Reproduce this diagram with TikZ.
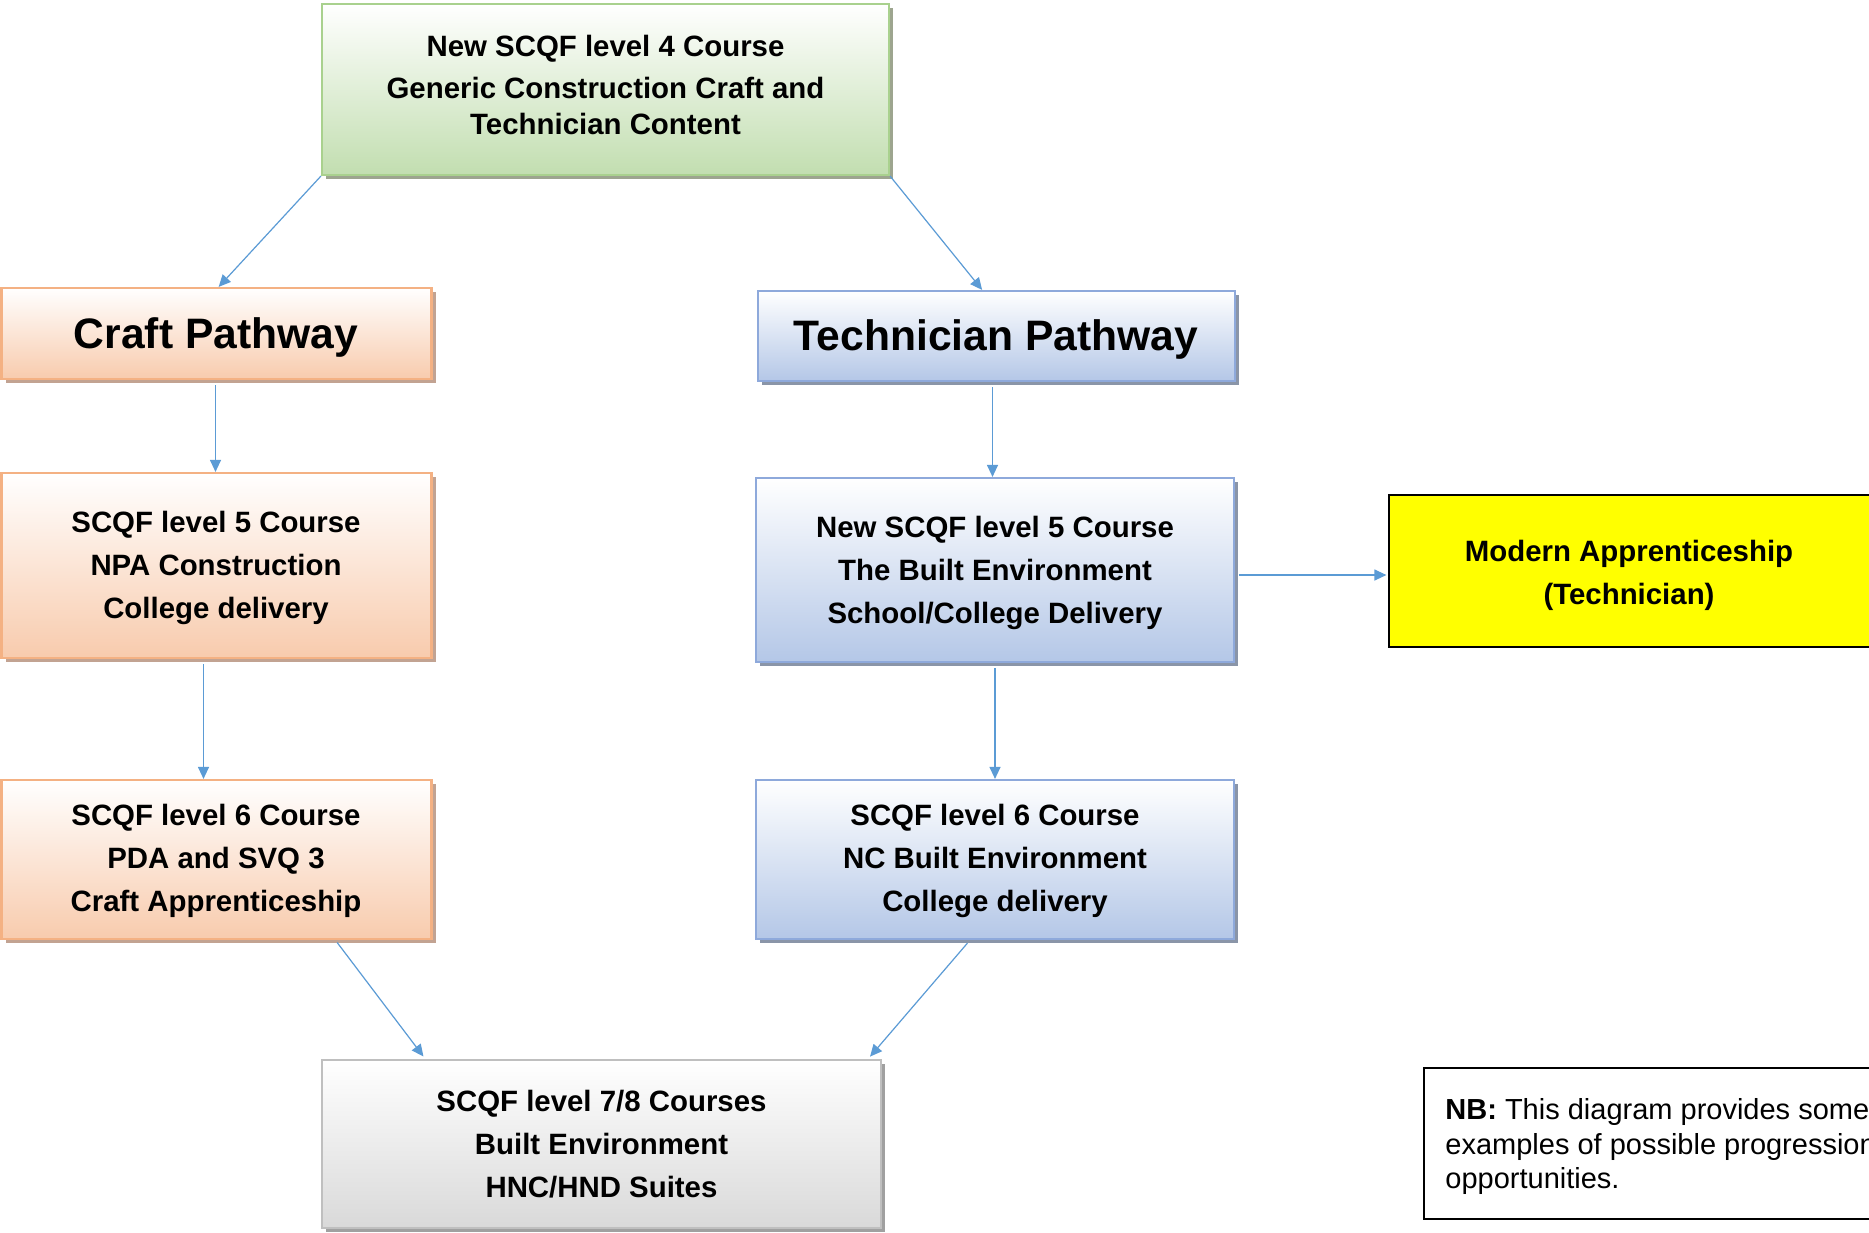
\documentclass[tikz,border=0pt]{standalone}
\usepackage{fontspec}
\setmainfont{Liberation Sans}
\usetikzlibrary{shadows,arrows.meta,calc}
\definecolor{arr}{HTML}{5B9BD5}
\definecolor{grB}{HTML}{A9D18E}
\definecolor{grF}{HTML}{C2DEB0}
\definecolor{grS}{HTML}{9DA58F}
\definecolor{orB}{HTML}{F4B183}
\definecolor{orF}{HTML}{F8CBAD}
\definecolor{orS}{HTML}{C2A392}
\definecolor{blB}{HTML}{8EA9DB}
\definecolor{blF}{HTML}{B4C7E7}
\definecolor{blS}{HTML}{8A95A8}
\definecolor{gyB}{HTML}{BFBFBF}
\definecolor{gyF}{HTML}{D9D9D9}
\definecolor{gyS}{HTML}{A0A0A0}
\definecolor{yel}{HTML}{FFFF00}
\tikzset{
  box/.style={rectangle, inner sep=0pt, line width=1.1pt},
  greenbox/.style={box, draw=grB, top color=white, bottom color=grF,
    drop shadow={shadow xshift=2pt, shadow yshift=-2pt, fill=grS, opacity=1}},
  orangebox/.style={box, draw=orB, top color=white, bottom color=orF,
    drop shadow={shadow xshift=2pt, shadow yshift=-2pt, fill=orS, opacity=1}},
  bluebox/.style={box, draw=blB, top color=white, bottom color=blF,
    drop shadow={shadow xshift=2pt, shadow yshift=-2pt, fill=blS, opacity=1}},
  graybox/.style={box, draw=gyB, top color=white, bottom color=gyF,
    drop shadow={shadow xshift=2pt, shadow yshift=-2pt, fill=gyS, opacity=1}},
  yellowbox/.style={box, draw=black, line width=0.6pt, fill=yel},
  notebox/.style={box, draw=black, line width=0.6pt, fill=white},
  txt/.style={align=center, inner sep=0pt, font=\bfseries\fontsize{14.7}{21.5}\selectfont},
  bigtxt/.style={inner sep=0pt, font=\bfseries\fontsize{21.3}{25}\selectfont},
  notetxt/.style={align=left, inner sep=0pt, anchor=west, font=\fontsize{14.5}{17.3}\selectfont},
  conn/.style={draw=arr, line width=0.6pt, -{Triangle[length=6pt,width=5.5pt]}},
}
\begin{document}
\begin{tikzpicture}[x=0.5pt,y=-0.5pt]
\useasboundingbox (0,0) rectangle (1869,1232);
\clip (0,0) rectangle (1869,1232);
\fill[white] (0,0) rectangle (1869,1232);

% boxes
\node[greenbox, minimum width=283.5pt, minimum height=85.5pt] (top) at (605.5,89.5) {};
\node[txt, font=\bfseries\fontsize{14.7}{18}\selectfont] (topt) at (605.5,85) {New SCQF level 4 Course\\[3pt]Generic Construction Craft and\\Technician Content};

\node[orangebox, minimum width=215pt, minimum height=45.5pt] (craft) at (216.5,333.5) {};
\node[bigtxt] (craftt) at (216,337) {Craft Pathway};

\node[bluebox, minimum width=238.5pt, minimum height=45pt] (tech) at (996.5,336) {};
\node[bigtxt] (techt) at (996,339.5) {Technician Pathway};

\node[orangebox, minimum width=215pt, minimum height=92.5pt] (craft5) at (216.5,565.5) {};
\node[txt] (craft5t) at (216,568) {SCQF level 5 Course\\NPA Construction\\College delivery};

\node[bluebox, minimum width=239pt, minimum height=92pt] (tech5) at (995,570) {};
\node[txt] (tech5t) at (995,572.5) {New SCQF level 5 Course\\The Built Environment\\School/College Delivery};

\node[yellowbox, minimum width=245pt, minimum height=76pt] (ma) at (1634,571) {};
\node[txt] (mat) at (1629,575) {Modern Apprenticeship\\(Technician)};

\node[orangebox, minimum width=215pt, minimum height=79.5pt] (craft6) at (216.5,859.5) {};
\node[txt] (craft6t) at (216,861) {SCQF level 6 Course\\PDA and SVQ 3\\Craft Apprenticeship};

\node[bluebox, minimum width=239pt, minimum height=79.5pt] (tech6) at (995,859.5) {};
\node[txt] (tech6t) at (995,861) {SCQF level 6 Course\\NC Built Environment\\College delivery};

\node[graybox, minimum width=279.5pt, minimum height=84pt] (hnc) at (601.5,1144) {};
\node[txt] (hnct) at (601.5,1144.5) {SCQF level 7/8 Courses\\Built Environment\\HNC/HND Suites};

\node[notebox, minimum width=230pt, minimum height=75.5pt] (nb) at (1654,1143.5) {};
\node[notetxt] (nbt) at (1445,1146.5) {\textbf{NB:} This diagram provides some\\examples of possible progression\\opportunities.};

% connectors
\draw[conn] (top.south west) -- ($(craft.north west)!0.505!(craft.north east)$);
\draw[conn] (top.south east) -- ($(tech.north west)!0.47!(tech.north east)$);
\draw[conn, shorten <=2.5pt] ([xshift=-0.5pt]craft.south) -- ([xshift=-0.5pt]craft.south |- craft5.north);
\draw[conn, shorten <=2.5pt] ([xshift=-2pt]tech.south) -- ([xshift=-2pt]tech.south |- tech5.north);
\draw[conn, shorten <=2.5pt] ([xshift=-6.5pt]craft5.south) -- ([xshift=-6.5pt]craft5.south |- craft6.north);
\draw[conn, shorten <=2.5pt] (tech5.south) -- (tech6.north);
\draw[conn, shorten <=2pt, shorten >=1pt] ([yshift=-2.5pt]tech5.east) -- ([yshift=-2.5pt]tech5.east -| ma.west);
\draw[conn, shorten <=1.5pt, shorten >=1.5pt] ($(craft6.south west)!0.775!(craft6.south east)$) -- ($(hnc.north west)!0.186!(hnc.north east)$);
\draw[conn, shorten <=2pt, shorten >=1.5pt] ($(tech6.south west)!0.448!(tech6.south east)$) -- ($(hnc.north west)!0.975!(hnc.north east)$);
\end{tikzpicture}
\end{document}
